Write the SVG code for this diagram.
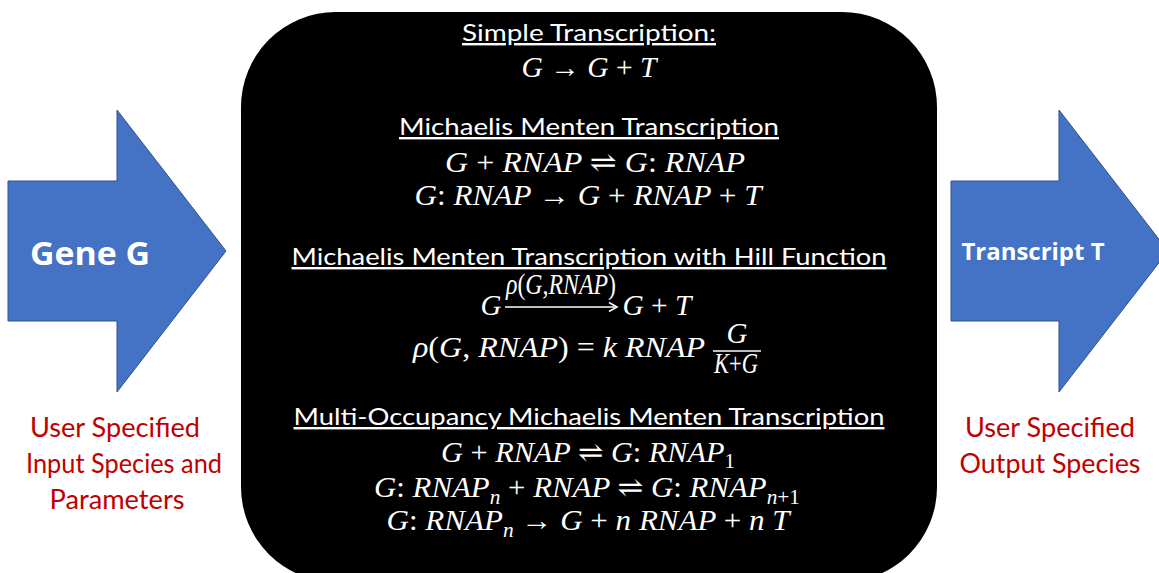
<svg xmlns="http://www.w3.org/2000/svg" width="1159" height="573" viewBox="0 0 1159 573">
<style>
.arrow{fill:#4472C4;stroke:#2F528F;stroke-width:1}
.hd{font-family:Lato,"Open Sans","Liberation Sans",sans-serif;font-size:24px;fill:#fff;text-anchor:middle;text-decoration:underline}
.m{font-family:"Liberation Serif","DejaVu Serif",serif;font-style:italic;font-size:29px;fill:#fff;text-anchor:middle}
.up{font-style:normal}
.red{font-family:Lato,"Open Sans","Liberation Sans",sans-serif;font-size:26px;fill:#C00000;text-anchor:middle}
.wb{font-family:"Open Sans",Lato,"Liberation Sans",sans-serif;font-weight:bold;fill:#fff;text-anchor:middle}
</style>
<rect width="1159" height="573" fill="#fff"/>
<g id="gene-g">
<path class="arrow" d="M8,181 H117 V110 L226,251 L117,392 V321 H8 Z"/>
<text class="wb" x="90" y="265" font-size="33" textLength="120" lengthAdjust="spacingAndGlyphs">Gene G</text>
</g>
<g id="input-label">
<text class="red" x="115" y="437" textLength="170" lengthAdjust="spacingAndGlyphs">User Specified</text>
<text class="red" x="124" y="473" textLength="196" lengthAdjust="spacingAndGlyphs">Input Species and</text>
<text class="red" x="117" y="509" textLength="135" lengthAdjust="spacingAndGlyphs">Parameters</text>
</g>
<g id="transcript-t">
<path class="arrow" d="M951,181 H1059 V110 L1168,251 L1059,392 V321 H951 Z"/>
<text class="wb" x="1033" y="260" font-size="24" textLength="143" lengthAdjust="spacingAndGlyphs">Transcript T</text>
</g>
<g id="output-label">
<text class="red" x="1050" y="437" textLength="170" lengthAdjust="spacingAndGlyphs">User Specified</text>
<text class="red" x="1050" y="473" textLength="181" lengthAdjust="spacingAndGlyphs">Output Species</text>
</g>
<g id="mechanisms">
<rect x="241" y="12" width="696" height="570" rx="95" ry="95" fill="#000"/>
<text class="hd" x="589" y="41" textLength="254" lengthAdjust="spacingAndGlyphs">Simple Transcription:</text>
<text class="m" x="589" y="77" textLength="135" lengthAdjust="spacingAndGlyphs">G <tspan class="up">→</tspan> G <tspan class="up">+</tspan> T</text>

<text class="hd" x="589" y="135" textLength="380" lengthAdjust="spacingAndGlyphs">Michaelis Menten Transcription</text>
<text class="m" x="595" y="172" textLength="300" lengthAdjust="spacingAndGlyphs">G <tspan class="up">+</tspan> RNAP <tspan class="up">⇌</tspan> G<tspan class="up">:</tspan> RNAP</text>
<text class="m" x="588" y="205" textLength="347" lengthAdjust="spacingAndGlyphs">G<tspan class="up">:</tspan> RNAP  <tspan class="up">→</tspan> G <tspan class="up">+</tspan> RNAP <tspan class="up">+</tspan> T</text>

<text class="hd" x="589" y="265" textLength="595" lengthAdjust="spacingAndGlyphs">Michaelis Menten Transcription with Hill Function</text>
<text class="m" x="491" y="315">G</text>
<text class="m" x="561" y="294" font-size="19" textLength="110" lengthAdjust="spacingAndGlyphs">ρ<tspan class="up">(</tspan>G<tspan class="up">,</tspan>RNAP<tspan class="up">)</tspan></text>
<path d="M505,307 H615" stroke="#fff" stroke-width="1.6" fill="none"/>
<path d="M609,302.5 L617,307 L609,311.5" stroke="#fff" stroke-width="1.6" fill="none"/>
<text class="m" x="657" y="315" textLength="69" lengthAdjust="spacingAndGlyphs">G <tspan class="up">+</tspan> T</text>
<text class="m" x="559" y="357" textLength="292" lengthAdjust="spacingAndGlyphs">ρ<tspan class="up">(</tspan>G<tspan class="up">,</tspan> RNAP<tspan class="up">) =</tspan> k RNAP</text>
<text class="m" x="737" y="343" font-size="16">G</text>
<path d="M713,351 H761" stroke="#fff" stroke-width="1.6"/>
<text class="m" x="736" y="373" font-size="17" textLength="44" lengthAdjust="spacingAndGlyphs">K<tspan class="up">+</tspan>G</text>

<text class="hd" x="589" y="425" textLength="591" lengthAdjust="spacingAndGlyphs">Multi-Occupancy Michaelis Menten Transcription</text>
<text class="m" x="588" y="462" textLength="294" lengthAdjust="spacingAndGlyphs">G <tspan class="up">+</tspan> RNAP <tspan class="up">⇌</tspan> G<tspan class="up">:</tspan> RNAP<tspan class="up" font-size="20" dy="6">1</tspan></text>
<text class="m" x="587" y="497" textLength="426" lengthAdjust="spacingAndGlyphs">G<tspan class="up">:</tspan> RNAP<tspan font-size="20" dy="7">n</tspan><tspan dy="-7"> <tspan class="up">+</tspan> RNAP <tspan class="up">⇌</tspan> G<tspan class="up">:</tspan> RNAP</tspan><tspan font-size="20" dy="7">n<tspan class="up">+1</tspan></tspan></text>
<text class="m" x="588" y="530" textLength="403" lengthAdjust="spacingAndGlyphs">G<tspan class="up">:</tspan> RNAP<tspan font-size="20" dy="7">n</tspan><tspan dy="-7">  <tspan class="up">→</tspan> G <tspan class="up">+</tspan> n RNAP <tspan class="up">+</tspan> n T</tspan></text>
</g>
<g id="connectors"></g>
</svg>
